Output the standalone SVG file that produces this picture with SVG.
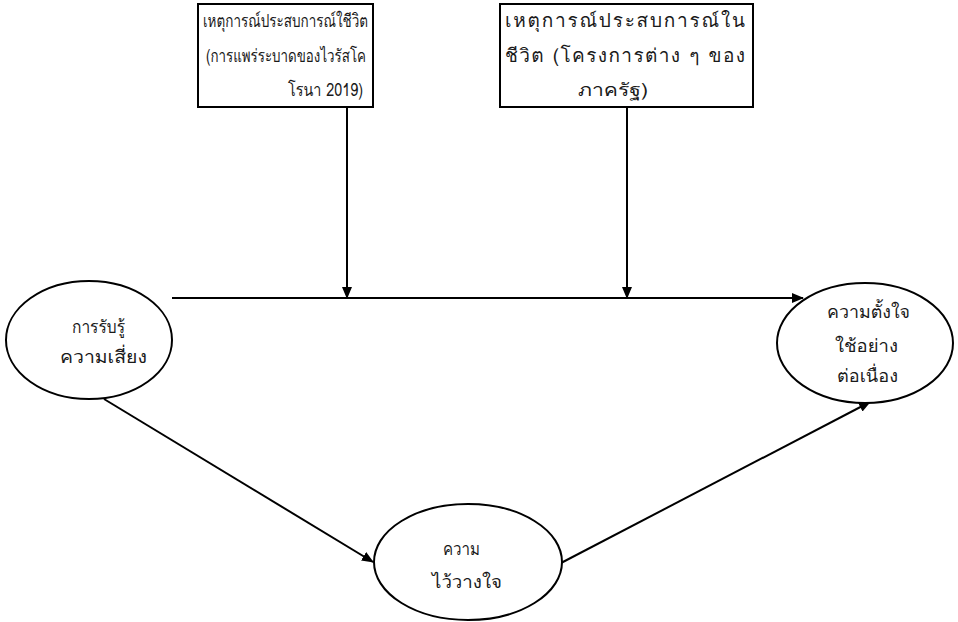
<svg xmlns="http://www.w3.org/2000/svg" width="958" height="622" viewBox="0 0 958 622">
<style>
.shape{fill:#fff;stroke:#000;stroke-width:2}
.line{fill:none;stroke:#000;stroke-width:2}
.t{font-family:"Loma","Garuda","Noto Sans Thai Looped","Noto Sans","Noto Sans Thai","DejaVu Sans",sans-serif;font-size:18px;fill:#1a1a1a}
.b{font-size:19px}
</style>
<defs>
<marker id="arr" markerWidth="12" markerHeight="10" refX="11" refY="5" orient="auto" markerUnits="userSpaceOnUse">
<path d="M0,0 L12,5 L0,10 Z" fill="#000"/>
</marker>
</defs>
<rect width="958" height="622" fill="#fff"/>
<g id="connectors">
<line class="line" x1="347" y1="107" x2="347" y2="298" marker-end="url(#arr)"/>
<line class="line" x1="627" y1="107" x2="627" y2="298" marker-end="url(#arr)"/>
<line class="line" x1="172" y1="298" x2="803" y2="298" marker-end="url(#arr)"/>
<line class="line" x1="104" y1="399" x2="373" y2="562" marker-end="url(#arr)"/>
<line class="line" x1="561" y1="563" x2="870" y2="402" marker-end="url(#arr)"/>
</g>
<g id="box1">
<rect class="shape" x="198" y="4" width="175" height="103"/>
<text class="t" x="203" y="27" textLength="165" lengthAdjust="spacingAndGlyphs">เหตุการณ์ประสบการณ์ใชีวิต</text>
<text class="t" x="206" y="62" textLength="160" lengthAdjust="spacingAndGlyphs">(การแพร่ระบาดของไวรัสโค</text>
<text class="t" x="288" y="96" textLength="75" lengthAdjust="spacingAndGlyphs">โรนา 2019)</text>
</g>
<g id="box2">
<rect class="shape" x="500" y="4" width="253" height="103"/>
<text class="t b" x="505" y="27" textLength="240" lengthAdjust="spacing">เหตุการณ์ประสบการณ์ใน</text>
<text class="t b" x="505" y="62" textLength="240" lengthAdjust="spacing">ชีวิต (โครงการต่าง ๆ ของ</text>
<text class="t" x="578" y="96" textLength="70" lengthAdjust="spacingAndGlyphs">ภาครัฐ)</text>
</g>
<g id="risk">
<ellipse class="shape" cx="89" cy="340" rx="83" ry="59"/>
<text class="t" x="72" y="333" textLength="53" lengthAdjust="spacingAndGlyphs">การรับรู้</text>
<text class="t" x="60" y="363" textLength="87" lengthAdjust="spacingAndGlyphs">ความเสี่ยง</text>
</g>
<g id="intention">
<ellipse class="shape" cx="865" cy="343" rx="88" ry="60"/>
<text class="t" x="827" y="318" textLength="83" lengthAdjust="spacingAndGlyphs">ความตั้งใจ</text>
<text class="t" x="835" y="352" textLength="63" lengthAdjust="spacingAndGlyphs">ใช้อย่าง</text>
<text class="t" x="837" y="382" textLength="61" lengthAdjust="spacingAndGlyphs">ต่อเนื่อง</text>
</g>
<g id="trust">
<ellipse class="shape" cx="468" cy="562" rx="94" ry="58"/>
<text class="t" x="443" y="555" textLength="37" lengthAdjust="spacingAndGlyphs">ความ</text>
<text class="t" x="432" y="588" textLength="70" lengthAdjust="spacingAndGlyphs">ไว้วางใจ</text>
</g>
</svg>
